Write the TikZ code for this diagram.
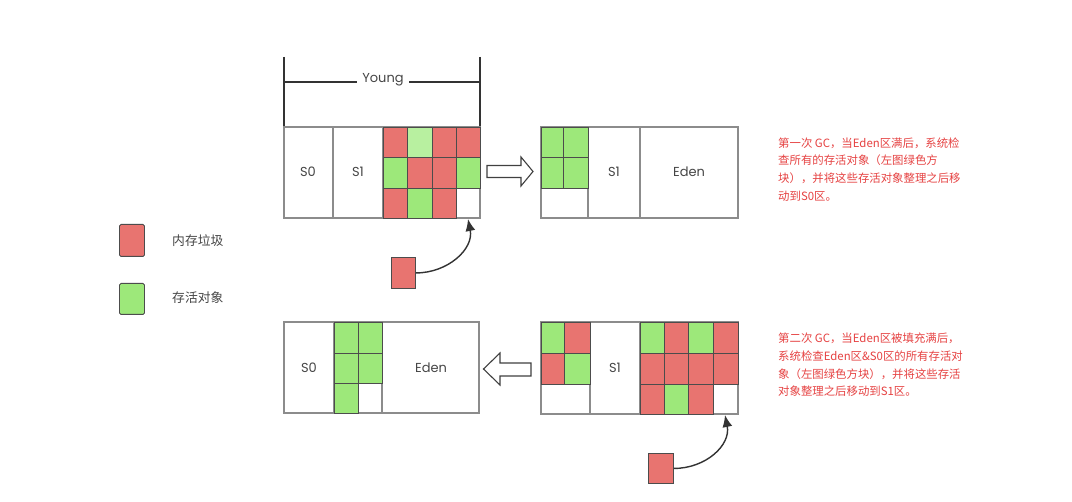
\documentclass[tikz,border=0pt]{standalone}
\usepackage{fontspec}
\setmainfont{Poppins}
\newfontfamily\cjk{Noto Sans CJK SC}
\usetikzlibrary{arrows.meta}
\definecolor{cred}{RGB}{232,116,112}
\definecolor{cgreen}{RGB}{157,232,122}
\definecolor{clgreen}{RGB}{184,240,160}
\definecolor{txtred}{RGB}{230,66,66}
\definecolor{lblgray}{RGB}{70,70,70}
\definecolor{boxgray}{RGB}{140,140,140}
\newcommand\gcell[5]{\draw[cellline,fill=#5] (#1,#2) rectangle (#3,#4);}
\begin{document}
\begin{tikzpicture}[x=1pt,y=-1pt,
  boxline/.style={draw=boxgray,line width=1.1pt},
  cellline/.style={draw=black!70,line width=0.9pt},
  lbl/.style={font=\fontsize{13}{15}\selectfont,text=lblgray,inner sep=0pt},
  desc/.style={font=\cjk\fontsize{11.4}{17.6}\selectfont,text=txtred,align=left,inner sep=0pt,anchor=north west},
  legtxt/.style={font=\cjk\fontsize{12.8}{15}\selectfont,text=lblgray,inner sep=0pt,anchor=west},
  hollow/.style={draw=black!75,line width=1.1pt,fill=white,line join=miter},
  gbox/.style={draw=black!70,line width=0.9pt,minimum width=25pt,minimum height=31pt,inner sep=0pt,anchor=north west},
  curvearrow/.style={draw=black!80,line width=1.4pt,-{Latex[length=12pt,width=10pt]}}
]
\useasboundingbox (0,0) rectangle (1072,502);
\fill[white] (0,0) rectangle (1072,502);

% ---------- Young bracket ----------
\draw[black!80,line width=1.2pt] (284,57) -- (284,127);
\draw[black!80,line width=1.2pt] (480,57) -- (480,127);
\draw[black!80,line width=1.2pt] (284,82) -- (480,82);
\node[lbl,fill=white,inner xsep=5pt,inner ysep=2pt] (young) at (383,80) {Young};

% ---------- top-left block ----------
\draw[boxline] (284,127) rectangle (480,218);
\draw[boxline] (333,127) -- (333,218);
\draw[boxline] (383,127) -- (383,218);
\node[lbl] (tlS0) at (308,172) {S0};
\node[lbl] (tlS1) at (358,172) {S1};
\gcell{383}{127}{407}{157}{cred}
\gcell{407}{127}{432}{157}{clgreen}
\gcell{432}{127}{456}{157}{cred}
\gcell{456}{127}{480}{157}{cred}
\gcell{383}{157}{407}{188}{cgreen}
\gcell{407}{157}{432}{188}{cred}
\gcell{432}{157}{456}{188}{cred}
\gcell{456}{157}{480}{188}{cgreen}
\gcell{383}{188}{407}{218}{cred}
\gcell{407}{188}{432}{218}{cgreen}
\gcell{432}{188}{456}{218}{cred}
\coordinate (tgtA) at (468,219);

% top hollow arrow (right)
\draw[hollow] (487,165.5) -- (521,165.5) -- (521,157) -- (533,171.5) -- (521,186) -- (521,177.5) -- (487,177.5) -- cycle;

% ---------- top-right block ----------
\draw[boxline] (541,127) rectangle (639.2,218);
\draw[boxline] (640.8,127) rectangle (738,218);
\draw[boxline] (588,127) -- (588,218);
\gcell{541}{127}{563}{157}{cgreen}
\gcell{563}{127}{588}{157}{cgreen}
\gcell{541}{157}{563}{188}{cgreen}
\gcell{563}{157}{588}{188}{cgreen}
\node[lbl] (trS1) at (614,172) {S1};
\node[lbl] (trEden) at (689,172) {Eden};

% ---------- top description ----------
\node[desc] (descA) at (778,137.5) {第一次 GC，当Eden区满后，系统检\\查所有的存活对象（左图绿色方\\块），并将这些存活对象整理之后移\\动到S0区。};

% ---------- top red box + arrow ----------
\node[gbox,fill=cred,minimum width=24pt,minimum height=31pt] (redA) at (391,257) {};
\draw[curvearrow] (redA.east) .. controls +(32,0) and +(6,30) .. (tgtA);

% ---------- legend ----------
\node[gbox,fill=cred,rounded corners=1.5pt,minimum width=25pt,minimum height=32pt] (legR) at (119,224) {};
\node[gbox,fill=cgreen,rounded corners=1.5pt,minimum width=25pt,minimum height=31pt] (legG) at (119,283) {};
\node[legtxt] (legRt) at (172,241) {内存垃圾};
\node[legtxt] (legGt) at (172,298) {存活对象};

% ---------- bottom-left block ----------
\draw[boxline] (284,322) rectangle (479,413);
\draw[boxline] (334,322) -- (334,413);
\draw[boxline] (382,322) -- (382,413);
\gcell{334}{322}{358}{353}{cgreen}
\gcell{358}{322}{382}{353}{cgreen}
\gcell{334}{353}{358}{383}{cgreen}
\gcell{358}{353}{382}{383}{cgreen}
\gcell{334}{383}{358}{413}{cgreen}
\node[lbl] (blS0) at (309,368) {S0};
\node[lbl] (blEden) at (431,368) {Eden};

% bottom hollow arrow (left)
\draw[hollow] (531,363) -- (500,363) -- (500,353) -- (483.5,369) -- (500,385) -- (500,376) -- (531,376) -- cycle;

% ---------- bottom-right block ----------
\draw[boxline] (541,322) rectangle (738,414);
\draw[boxline] (590,322) -- (590,414);
\draw[boxline] (640,322) -- (640,414);
\gcell{541}{322}{564}{353}{cgreen}
\gcell{564}{322}{590}{353}{cred}
\gcell{541}{353}{564}{384}{cred}
\gcell{564}{353}{590}{384}{cgreen}
\node[lbl] (brS1) at (615,368) {S1};
\gcell{640}{322}{664}{353}{cgreen}
\gcell{664}{322}{688}{353}{cred}
\gcell{688}{322}{713}{353}{cgreen}
\gcell{713}{322}{738}{353}{cred}
\gcell{640}{353}{664}{384}{cred}
\gcell{664}{353}{688}{384}{cred}
\gcell{688}{353}{713}{384}{cred}
\gcell{713}{353}{738}{384}{cred}
\gcell{640}{384}{664}{414}{cred}
\gcell{664}{384}{688}{414}{cgreen}
\gcell{688}{384}{713}{414}{cred}
\coordinate (tgtB) at (725,415);

% ---------- bottom description ----------
\node[desc] (descB) at (778,333) {第二次 GC，当Eden区被填充满后，\\系统检查Eden区\&S0区的所有存活对\\象（左图绿色方块），并将这些存活\\对象整理之后移动到S1区。};

% ---------- bottom red box + arrow ----------
\node[gbox,fill=cred,minimum width=25pt,minimum height=30pt] (redB) at (648,453) {};
\draw[curvearrow] (redB.east) .. controls +(32,0) and +(6,30) .. (tgtB);
\end{tikzpicture}
\end{document}
